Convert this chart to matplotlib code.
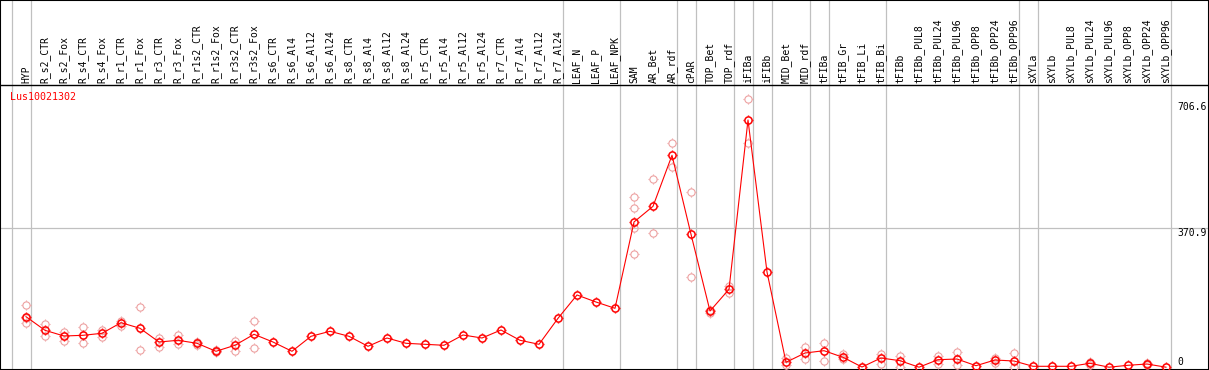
import matplotlib.pyplot as plt
import numpy as np
from matplotlib.path import Path

plt.rcParams['font.family'] = 'DejaVu Sans Mono'

# sample names (x axis)
samples = ['HYP', 'R_s2_CTR', 'R_s2_Fox', 'R_s4_CTR', 'R_s4_Fox', 'R_r1_CTR', 'R_r1_Fox',
           'R_r3_CTR', 'R_r3_Fox', 'R_r1s2_CTR', 'R_r1s2_Fox', 'R_r3s2_CTR', 'R_r3s2_Fox',
           'R_s6_CTR', 'R_s6_Al4', 'R_s6_Al12', 'R_s6_Al24', 'R_s8_CTR', 'R_s8_Al4',
           'R_s8_Al12', 'R_s8_Al24', 'R_r5_CTR', 'R_r5_Al4', 'R_r5_Al12', 'R_r5_Al24',
           'R_r7_CTR', 'R_r7_Al4', 'R_r7_Al12', 'R_r7_Al24', 'LEAF_N', 'LEAF_P', 'LEAF_NPK',
           'SAM', 'AR_Bet', 'AR_rdf', 'cPAR', 'TOP_Bet', 'TOP_rdf', 'iFIBa', 'iFIBb',
           'MID_Bet', 'MID_rdf', 'tFIBa', 'tFIB_Gr', 'tFIB_Li', 'tFIB_Bi', 'tFIBb',
           'tFIBb_PUL8', 'tFIBb_PUL24', 'tFIBb_PUL96', 'tFIBb_OPP8', 'tFIBb_OPP24',
           'tFIBb_OPP96', 'sXYLa', 'sXYLb', 'sXYLb_PUL8', 'sXYLb_PUL24', 'sXYLb_PUL96',
           'sXYLb_OPP8', 'sXYLb_OPP24', 'sXYLb_OPP96']

# mean expression per sample
means = [134.6, 98.3, 83.1, 85.0, 90.3, 118.6, 103.7, 67.1, 71.7, 63.7, 42.4, 58.4, 87.7,
         67.1, 42.4, 82.3, 95.7, 82.3, 55.7, 77.8, 63.7, 61.0, 58.4, 85.8, 77.8,
         99.1, 71.7, 61.0, 130.3, 192.4, 173.7, 156.9,
         386.9, 428.7, 564.6, 354.1, 149.7, 207.6, 658.7, 253.7,
         13.1, 37.8, 44.0, 26.4, 0.5, 24.5, 17.3, 0.0, 20.0, 21.8, 4.0, 19.2, 16.5,
         2.4, 2.4, 2.4, 10.4, 0.0, 5.1, 8.5, 0.0]

# individual replicates (same order as samples)
replicates = [[164.9, 130.3, 117.0], [115.1, 83.9], [93.0, 69.0], [107.9, 64.5], [99.1, 81.3],
              [123.9, 109.8], [159.6, 46.6], [78.6, 54.6], [85.0, 61.0], [67.1, 60.0],
              [45.8, 39.4], [70.6, 44.0], [123.1, 50.4],
              [], [], [], [], [], [], [], [], [], [], [], [], [], [], [], [], [], [], [],
              [452.7, 423.4, 370.1, 301.6], [501.5, 356.8], [596.6, 532.6], [466.0, 240.3],
              [153.7, 145.7], [217.2, 198.5], [715.4, 598.2], [],
              [24.5, 5.9], [53.8, 21.8], [65.3, 16.5], [36.0, 21.0], [], [34.4, 7.7],
              [30.6, 0.0], [], [30.6, 9.3], [41.3, 5.9], [], [23.7, 12.0], [38.6, 0.0],
              [], [], [], [14.7, 5.9], [], [], [12.0, 5.1], []]

# group separators drawn after these sample indices
group_ends = [-1, 0, 28, 31, 34, 35, 37, 38, 39, 41, 42, 45, 52, 53, 60]
ytick_vals = [706.6, 370.9, 0]

# four short ticks around the circle marker
ticks = Path([(1, 0), (1.4, 0), (-1, 0), (-1.4, 0), (0, 1), (0, 1.4), (0, -1), (0, -1.4)],
             [Path.MOVETO, Path.LINETO] * 4)

W, H = 1209, 370
fig = plt.figure(figsize=(W / 100, H / 100), dpi=100)
ax = fig.add_axes([0, 0, 1, 1])

# pixel layout -> data limits
x0, dx = 26, 19.0
y0, sy = 367.2, 0.3753
ax.set_xlim(-x0 / dx, (W - x0) / dx)
ax.set_ylim((y0 - H) / sy, y0 / sy)
sep_val = (y0 - 85) / sy

x = np.arange(len(samples))

for g in group_ends:
    ax.axvline(g + 0.25, color='#c0c0c0', lw=0.9, zorder=1)
ax.axhline(370.9, color='#c0c0c0', lw=0.9, zorder=1)
ax.axhline(sep_val, color='black', lw=1.0, zorder=2)

for i, r in enumerate(replicates):
    if r:
        xi = [i] * len(r)
        ax.plot(xi, r, linestyle='none', marker='o', markersize=5.2,
                markerfacecolor='none', markeredgecolor='#eda0a0', markeredgewidth=0.8, zorder=3)
        ax.plot(xi, r, linestyle='none', marker=ticks, markersize=7.6,
                markeredgecolor='#eda0a0', markeredgewidth=0.8, zorder=3)

ax.plot(x, means, color='red', lw=0.8, marker='o', markersize=5.2,
        markerfacecolor='none', markeredgecolor='red', markeredgewidth=1.1, zorder=4)
ax.plot(x, means, linestyle='none', marker=ticks, markersize=7.6,
        markeredgecolor='red', markeredgewidth=1.0, zorder=4)

lab_y = 1 - 83 / H
for i, s in enumerate(samples):
    ax.text(i, lab_y, s, transform=ax.get_xaxis_transform(), rotation=90,
            ha='center', va='bottom', fontsize=7, color='black')

ax.text(10 / W, 1 - 97 / H, 'Lus10021302', transform=ax.transAxes, color='red',
        fontsize=7.2, ha='left', va='center')

for v in ytick_vals:
    ax.text(1177 / W, v, str(v) if v else '0', transform=ax.get_yaxis_transform(),
            ha='left', va='top' if v else 'bottom', fontsize=7)

ax.set_xticks([])
ax.set_yticks([])
for sp in ax.spines.values():
    sp.set_color('black')
    sp.set_linewidth(1.5)

fig.savefig('out.png', dpi=100)
